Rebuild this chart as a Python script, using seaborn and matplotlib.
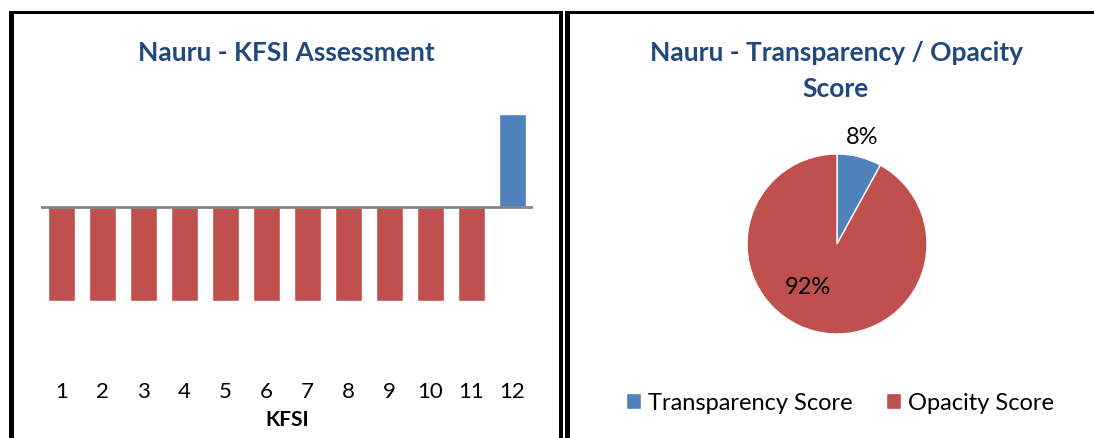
import matplotlib
matplotlib.use('Agg')
import matplotlib.pyplot as plt
from matplotlib.patches import Rectangle
import pandas as pd
import seaborn as sns

# data
kfsi = [str(i) for i in range(1, 13)]
kfsi_values = [-1, -1, -1, -1, -1, -1, -1, -1, -1, -1, -1, 1]
pie_labels = ['Transparency Score', 'Opacity Score']
pie_values = [8, 92]

BLUE = '#4F81BD'
RED = '#C0504D'
TITLE = '#1F497D'

sns.set_theme(style='white')
plt.rcParams['font.family'] = ['Lato', 'DejaVu Sans']

W, H = 1094, 439
fig = plt.figure(figsize=(W / 100, H / 100), dpi=100)

def px(x0, y0, x1, y1):
    # pixel box (top-left origin) -> figure rect
    return [x0 / W, 1 - y1 / H, (x1 - x0) / W, (y1 - y0) / H]

# panel frames
for x0, y0, x1, y1 in [(9, 12, 14, H), (9, 12, 563, 15), (559, 12, 563, H),
                       (565, 12, W, 15), (565, 12, 570, H)]:
    fig.add_artist(Rectangle((x0 / W, 1 - y1 / H), (x1 - x0) / W, (y1 - y0) / H,
                             transform=fig.transFigure, color='black', lw=0))

# ---- bar chart
df = pd.DataFrame({'KFSI': kfsi, 'value': kfsi_values})
df['sign'] = ['pos' if v > 0 else 'neg' for v in df['value']]
ax = fig.add_axes(px(41, 96, 533, 378))
sns.barplot(data=df, x='KFSI', y='value', hue='sign', palette={'pos': BLUE, 'neg': RED},
            dodge=False, width=0.67, legend=False, ax=ax, saturation=1)
ax.axhline(0, color='#868686', lw=2)
ax.set_ylim(-1.81, 1.2)
ax.set_xlim(-0.5, 11.5)
ax.set_yticks([])
sns.despine(ax=ax, left=True, bottom=True)
ax.tick_params(axis='x', length=0, pad=3, labelsize=16, labelcolor='black')
ax.set_xlabel('KFSI', fontsize=15, fontweight='bold', labelpad=6, color='black')
ax.set_ylabel('')
fig.text(286 / W, 1 - 53 / H, 'Nauru - KFSI Assessment', ha='center', va='center',
         fontsize=19, fontweight='bold', color=TITLE)

# ---- pie chart
R = 90
cx, cy = 837, 245
ax2 = fig.add_axes(px(cx - 100, cy - 100, cx + 100, cy + 100))
wedges, _, autotexts = ax2.pie(pie_values, colors=[BLUE, RED], startangle=90,
                               counterclock=False, autopct='%1.0f%%',
                               textprops={'fontsize': 17, 'color': 'black'})
ax2.set_xlim(-100 / R, 100 / R)
ax2.set_ylim(-100 / R, 100 / R)
autotexts[0].set_position((0.28, 1.2))
autotexts[1].set_position((-0.32, -0.47))
fig.text(836 / W, 1 - 53 / H, 'Nauru - Transparency / Opacity', ha='center', va='center',
         fontsize=19, fontweight='bold', color=TITLE)
fig.text(836 / W, 1 - 89 / H, 'Score', ha='center', va='center',
         fontsize=19, fontweight='bold', color=TITLE)
leg = fig.legend(wedges, pie_labels, loc='center', bbox_to_anchor=(840 / W, 1 - 404 / H),
                 ncol=2, frameon=False, fontsize=17, handlelength=0.65, handleheight=0.65,
                 handletextpad=0.3, columnspacing=1.4)
for t in leg.get_texts():
    t.set_color('black')

fig.savefig('out.png', dpi=100)
